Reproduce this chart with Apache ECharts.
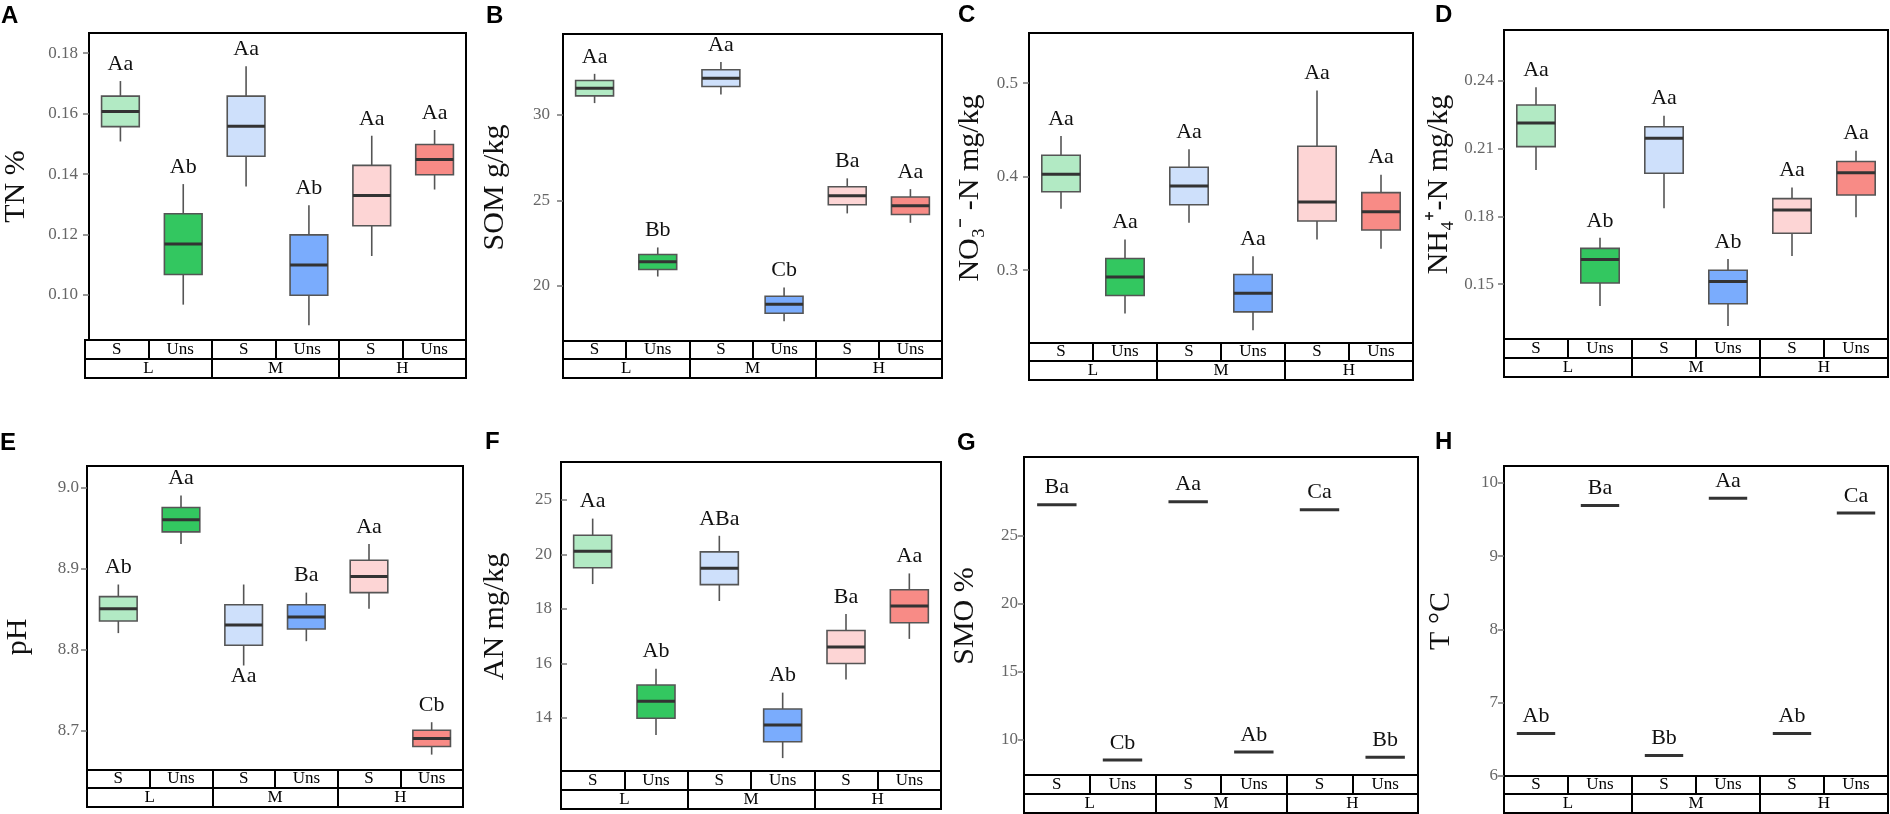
<!DOCTYPE html>
<html><head><meta charset="utf-8">
<script src="https://cdn.jsdelivr.net/npm/echarts@6/dist/echarts.min.js"></script>
<style>html,body{margin:0;padding:0;background:#fff;}#c{width:1890px;height:814px;}</style>
</head><body><div id="c"></div>
<script>
// ---------- categories ----------
const groups = ['L', 'M', 'H'];
const subgroups = ['S', 'Uns', 'S', 'Uns', 'S', 'Uns'];
const treatments = ['L-S', 'L-Uns', 'M-S', 'M-Uns', 'H-S', 'H-Uns'];
const boxColors = ['#b2eac4', '#33c760', '#cee0fb', '#7aacfd', '#fdd5d5', '#f88b86'];

// ---------- values: [low whisker, Q1, median, Q3, high whisker] ----------
const TN_stats = [
  [0.1508, 0.1557, 0.1607, 0.1658, 0.1708],
  [0.0968, 0.1068, 0.1169, 0.1269, 0.1367],
  [0.1359, 0.1459, 0.1558, 0.1658, 0.1757],
  [0.0900, 0.0999, 0.1099, 0.1199, 0.1297],
  [0.1129, 0.1229, 0.1329, 0.1429, 0.1527],
  [0.1349, 0.1398, 0.1448, 0.1498, 0.1546]
];
const TN_letters = ['Aa', 'Ab', 'Aa', 'Ab', 'Aa', 'Aa'];
const TN_ticks = [0.10, 0.12, 0.14, 0.16, 0.18];
const TN_tickLabels = ['0.10', '0.12', '0.14', '0.16', '0.18'];

const SOM_stats = [
  [30.69, 31.11, 31.56, 32.01, 32.40],
  [20.55, 20.96, 21.41, 21.84, 22.25],
  [31.19, 31.66, 32.15, 32.64, 33.10],
  [17.93, 18.40, 18.93, 19.40, 19.91],
  [24.24, 24.75, 25.27, 25.80, 26.29],
  [23.69, 24.18, 24.69, 25.20, 25.66]
];
const SOM_letters = ['Aa', 'Bb', 'Aa', 'Cb', 'Ba', 'Aa'];
const SOM_ticks = [20, 25, 30];
const SOM_tickLabels = ['20', '25', '30'];

const NO3_stats = [
  [0.3657, 0.3839, 0.4025, 0.4229, 0.4435],
  [0.2536, 0.2729, 0.2928, 0.3125, 0.3329],
  [0.3507, 0.3700, 0.3900, 0.4100, 0.4293],
  [0.2357, 0.2554, 0.2754, 0.2954, 0.3150],
  [0.3329, 0.3525, 0.3728, 0.4325, 0.4921],
  [0.3228, 0.3429, 0.3625, 0.3829, 0.4021]
];
const NO3_letters = ['Aa', 'Aa', 'Aa', 'Aa', 'Aa', 'Aa'];
const NO3_ticks = [0.3, 0.4, 0.5];
const NO3_tickLabels = ['0.3', '0.4', '0.5'];

const NH4_stats = [
  [0.2005, 0.2108, 0.2213, 0.2292, 0.2371],
  [0.1403, 0.1505, 0.1609, 0.1658, 0.1705],
  [0.1835, 0.1990, 0.2145, 0.2196, 0.2245],
  [0.1315, 0.1413, 0.1511, 0.1561, 0.1611],
  [0.1624, 0.1725, 0.1828, 0.1878, 0.1927],
  [0.1796, 0.1894, 0.1993, 0.2042, 0.2090]
];
const NH4_letters = ['Aa', 'Ab', 'Aa', 'Ab', 'Aa', 'Aa'];
const NH4_ticks = [0.15, 0.18, 0.21, 0.24];
const NH4_tickLabels = ['0.15', '0.18', '0.21', '0.24'];

const PH_stats = [
  [8.820, 8.835, 8.850, 8.865, 8.880],
  [8.930, 8.945, 8.960, 8.975, 8.990],
  [8.780, 8.805, 8.830, 8.855, 8.880],
  [8.810, 8.825, 8.840, 8.855, 8.870],
  [8.850, 8.870, 8.890, 8.910, 8.930],
  [8.670, 8.680, 8.690, 8.700, 8.710]
];
const PH_letters = ['Ab', 'Aa', 'Aa', 'Ba', 'Aa', 'Cb'];
const PH_letterBelow = [false, false, true, false, false, false];
const PH_ticks = [8.7, 8.8, 8.9, 9.0];
const PH_tickLabels = ['8.7', '8.8', '8.9', '9.0'];

const AN_stats = [
  [18.91, 19.51, 20.11, 20.70, 21.31],
  [13.38, 13.99, 14.61, 15.21, 15.81],
  [18.29, 18.89, 19.49, 20.09, 20.68],
  [12.53, 13.13, 13.74, 14.33, 14.93],
  [15.41, 16.00, 16.60, 17.21, 17.81],
  [16.90, 17.49, 18.11, 18.70, 19.30]
];
const AN_letters = ['Aa', 'Ab', 'ABa', 'Ab', 'Ba', 'Aa'];
const AN_ticks = [14, 16, 18, 20, 22];
const AN_tickLabels = ['14', '16', '18', '20', '25'];

const SMO_values = [27.28, 8.53, 27.50, 9.12, 26.91, 8.73];
const SMO_letters = ['Ba', 'Cb', 'Aa', 'Ab', 'Ca', 'Bb'];
const SMO_ticks = [10, 15, 20, 25];
const SMO_tickLabels = ['10', '15', '20', '25'];

const T_values = [6.58, 9.69, 6.28, 9.79, 6.58, 9.59];
const T_letters = ['Ab', 'Ba', 'Bb', 'Aa', 'Ab', 'Ca'];
const T_ticks = [6, 7, 8, 9, 10];
const T_tickLabels = ['6', '7', '8', '9', '10'];

const NONE = [false, false, false, false, false, false];
const SERIF = '"Liberation Serif", "Times New Roman", serif';

// ---------- panel layout ----------
const panels = [
  {tag: 'A', tagXY: [1, 16.5], name: 'TN %', stats: TN_stats, letters: TN_letters, below: NONE, ticks: TN_ticks, tickLabels: TN_tickLabels, min: 0.0851, max: 0.1867, box: [85, 466, 33, 340, 359, 378], gap: 58, margin: 11, inside: false, pad: 0},
  {tag: 'B', tagXY: [486, 16], name: 'SOM g/kg', stats: SOM_stats, letters: SOM_letters, below: NONE, ticks: SOM_ticks, tickLabels: SOM_tickLabels, min: 16.78, max: 34.73, box: [563, 942, 34, 341, 359, 378], gap: 53, margin: 13, inside: false, pad: 0},
  {tag: 'C', tagXY: [958, 15], name: 'NO\u2083\u207B -N mg/kg', stats: NO3_stats, letters: NO3_letters, below: NONE, ticks: NO3_ticks, tickLabels: NO3_tickLabels, min: 0.2221, max: 0.5536, box: [1029, 1413, 33, 343, 361, 380], gap: 44, margin: 11, inside: false, pad: 0},
  {tag: 'D', tagXY: [1435, 15], name: 'NH\u2084\u207A-N mg/kg', stats: NH4_stats, letters: NH4_letters, below: NONE, ticks: NH4_ticks, tickLabels: NH4_tickLabels, min: 0.1257, max: 0.2624, box: [1504, 1888, 30, 339, 358, 377], gap: 50, margin: 10, inside: false, pad: 0},
  {tag: 'E', tagXY: [0, 443.5], name: 'pH', stats: PH_stats, letters: PH_letters, below: PH_letterBelow, ticks: PH_ticks, tickLabels: PH_tickLabels, min: 8.651, max: 9.0263, box: [87, 463, 466, 770, 788, 807], gap: 54, margin: 8, inside: false, pad: 38},
  {tag: 'F', tagXY: [485, 442.5], name: 'AN mg/kg', stats: AN_stats, letters: AN_letters, below: NONE, ticks: AN_ticks, tickLabels: AN_tickLabels, min: 12.057, max: 23.385, box: [561, 941, 462, 771, 790, 809], gap: 51, margin: 9, inside: true, pad: 0},
  {tag: 'G', tagXY: [957, 443.5], name: 'SMO %', stats: SMO_values.map(v => [v, v, v, v, v]), letters: SMO_letters, below: NONE, ticks: SMO_ticks, tickLabels: SMO_tickLabels, min: 7.43, max: 30.78, box: [1024, 1418, 457, 775, 794, 813], gap: 44, margin: 6, inside: false, pad: 0},
  {tag: 'H', tagXY: [1435, 442], name: 'T \u00B0C', stats: T_values.map(v => [v, v, v, v, v]), letters: T_letters, below: NONE, ticks: T_ticks, tickLabels: T_tickLabels, min: 6, max: 10.23, box: [1504, 1888, 466, 776, 794, 813], gap: 48, margin: 6, inside: false, pad: 0}
];

function makeRender(letters, below) {
  return function (params, api) {
    const k = api.value(0);
    const lo = api.coord([k, api.value(1)]);
    const q1 = api.coord([k, api.value(2)]);
    const md = api.coord([k, api.value(3)]);
    const q3 = api.coord([k, api.value(4)]);
    const hi = api.coord([k, api.value(5)]);
    const w = api.size([1, 0])[0] * 0.6;
    const cx = md[0];
    const idx = params.dataIndex;
    const ch = [];
    if (q3[1] - hi[1] > 0.5) ch.push({type: 'line', shape: {x1: cx, y1: hi[1], x2: cx, y2: q3[1]}, style: {stroke: '#555', lineWidth: 1.6}});
    if (lo[1] - q1[1] > 0.5) ch.push({type: 'line', shape: {x1: cx, y1: q1[1], x2: cx, y2: lo[1]}, style: {stroke: '#555', lineWidth: 1.6}});
    const h = q1[1] - q3[1];
    if (h > 0.5) ch.push({type: 'rect', shape: {x: cx - w / 2, y: q3[1], width: w, height: h}, style: {fill: boxColors[idx], stroke: '#555', lineWidth: 1.6}});
    ch.push({type: 'line', shape: {x1: cx - w / 2, y1: md[1], x2: cx + w / 2, y2: md[1]}, style: {stroke: '#333', lineWidth: 3}});
    const isBelow = below[idx];
    ch.push({type: 'text', style: {text: letters[idx], x: cx, y: isBelow ? lo[1] + 11 : hi[1] - 17, align: 'center', verticalAlign: 'middle', textAlign: 'center', textVerticalAlign: 'middle', font: '22px ' + SERIF, fill: '#111'}});
    return {type: 'group', children: ch};
  };
}

const grid = [], xAxis = [], yAxis = [], series = [], graphic = [];
panels.forEach((p) => {
  const [l, r, t, b, r1, r2] = p.box;
  const gi = grid.length;
  const gstyle = {show: true, borderColor: '#000', borderWidth: 2, backgroundColor: 'transparent', containLabel: false};
  grid.push(Object.assign({left: l, top: t, width: r - l, height: b - t}, gstyle));
  grid.push(Object.assign({left: l, top: b, width: r - l, height: r1 - b}, gstyle));
  grid.push(Object.assign({left: l, top: r1, width: r - l, height: r2 - r1}, gstyle));

  const fmt = (v) => {
    for (let i = 0; i < p.ticks.length; i++) {
      if (Math.abs(p.ticks[i] - v) < 1e-6 * (p.max - p.min)) return p.tickLabels[i];
    }
    return '';
  };
  xAxis.push({gridIndex: gi, type: 'category', data: treatments, show: false});
  yAxis.push({
    gridIndex: gi, type: 'value', min: p.min, max: p.max,
    name: p.name, nameLocation: 'middle', nameGap: p.gap,
    nameTextStyle: {fontFamily: SERIF, fontSize: 30, color: '#111', padding: [0, p.pad, 0, 0]},
    axisLine: {show: false}, splitLine: {show: false},
    axisTick: {show: true, inside: p.inside, length: 6, customValues: p.ticks, lineStyle: {color: '#777', width: 1.5}},
    axisLabel: {customValues: p.ticks, formatter: fmt, margin: p.margin, color: '#666', fontFamily: SERIF, fontSize: 17}
  });
  const rowAxis = (idx, data) => ({
    gridIndex: idx, type: 'category', data: data, position: 'bottom',
    axisLine: {show: false}, axisTick: {show: false},
    splitLine: {show: true, interval: 0, lineStyle: {color: '#000', width: 2}},
    axisLabel: {inside: true, interval: 0, margin: 9.5, verticalAlign: 'middle', color: '#000', fontFamily: SERIF, fontSize: 17}
  });
  xAxis.push(rowAxis(gi + 1, subgroups));
  yAxis.push({gridIndex: gi + 1, type: 'value', show: false});
  xAxis.push(rowAxis(gi + 2, groups));
  yAxis.push({gridIndex: gi + 2, type: 'value', show: false});

  series.push({
    type: 'custom', xAxisIndex: gi, yAxisIndex: gi,
    renderItem: makeRender(p.letters, p.below),
    encode: {x: 0, y: [1, 2, 3, 4, 5]},
    data: p.stats.map((s, k) => [k].concat(s)),
    silent: true, clip: false
  });

  graphic.push({type: 'text', x: p.tagXY[0], y: p.tagXY[1], style: {text: p.tag, font: 'bold 24px "Liberation Sans", Arial, sans-serif', fill: '#000', align: 'left', verticalAlign: 'middle', textAlign: 'left', textVerticalAlign: 'middle'}});
});

const chart = echarts.init(document.getElementById('c'), null, {renderer: 'canvas'});
chart.setOption({animation: false, backgroundColor: '#fff', grid, xAxis, yAxis, series, graphic});
</script>
</body></html>
